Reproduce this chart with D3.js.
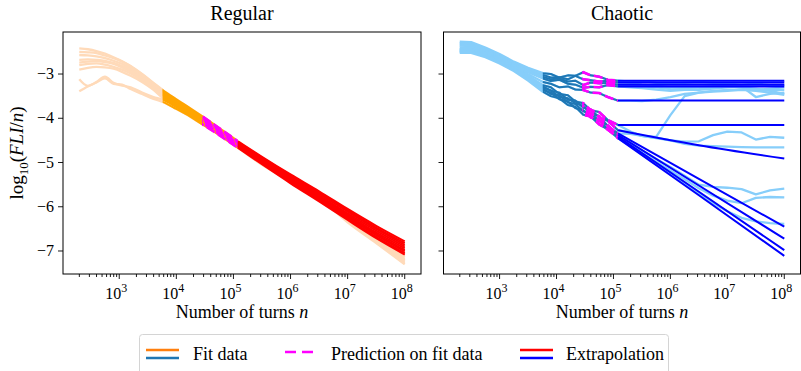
<!DOCTYPE html>
<html>
<head>
<meta charset="utf-8">
<script src="https://cdn.jsdelivr.net/npm/d3@7"></script>
<style>
  body { margin: 0; background: #fff; }
  text { font-family: "Liberation Serif", "DejaVu Serif", serif; fill: #000; }
</style>
</head>
<body>
<div id="chart"></div>
<script>
// ---- data (x values are log10 of the number of turns) ----
var fitStart = 3.76, predStart = 4.45, fitEnd = 5.08;

var regLogN = [2.3, 2.45, 2.6, 2.75, 2.9, 3.05, 3.2, 3.4, 3.6, 3.76, 4.0, 4.25, 4.47, 4.75, 5.08, 5.5, 6.0, 6.5, 7.0, 7.5, 8.0];
var regSeries = [
  [-2.42, -2.44, -2.48, -2.54, -2.62, -2.71, -2.82, -3.0, -3.2, -3.36, -3.57, -3.78, -3.97, -4.22, -4.52, -4.92, -5.3, -5.7, -6.2, -6.62, -7.02],
  [-2.5, -2.51, -2.53, -2.58, -2.64, -2.72, -2.83, -3.01, -3.21, -3.38, -3.59, -3.8, -3.99, -4.24, -4.54, -4.94, -5.31, -5.71, -6.22, -6.66, -7.06],
  [-2.57, -2.58, -2.6, -2.64, -2.7, -2.77, -2.87, -3.04, -3.23, -3.41, -3.61, -3.82, -4.01, -4.26, -4.56, -4.95, -5.33, -5.72, -6.24, -6.68, -7.1],
  [-2.68, -2.67, -2.68, -2.7, -2.75, -2.82, -2.91, -3.07, -3.26, -3.44, -3.64, -3.84, -4.03, -4.28, -4.58, -4.97, -5.34, -5.73, -6.26, -6.71, -7.14],
  [-2.74, -2.72, -2.71, -2.73, -2.77, -2.85, -2.95, -3.1, -3.29, -3.47, -3.66, -3.86, -4.05, -4.3, -4.6, -4.98, -5.35, -5.74, -6.28, -6.74, -7.18],
  [-2.8, -2.77, -2.76, -2.79, -2.84, -2.9, -2.99, -3.14, -3.32, -3.5, -3.69, -3.89, -4.07, -4.32, -4.62, -5.0, -5.37, -5.76, -6.3, -6.76, -7.21],
  [-2.9, -2.86, -2.84, -2.85, -2.88, -2.95, -3.04, -3.18, -3.36, -3.54, -3.72, -3.91, -4.09, -4.34, -4.63, -5.01, -5.38, -5.77, -6.32, -6.78, -7.24],
  [-3.12, -3.27, -3.18, -3.06, -3.2, -3.26, -3.3, -3.42, -3.52, -3.58, -3.75, -3.94, -4.12, -4.36, -4.65, -5.03, -5.4, -5.78, -6.33, -6.8, -7.27],
  [-3.39, -3.28, -3.19, -3.1, -3.22, -3.24, -3.34, -3.45, -3.56, -3.63, -3.79, -3.97, -4.15, -4.38, -4.67, -5.05, -5.42, -5.8, -6.35, -6.82, -7.3]
];
var regExtLogN = [5.08, 5.5, 6.0, 6.5, 7.0, 7.5, 8.0];
var regExtrap = [
  [-4.52, -4.87, -5.27, -5.65, -6.05, -6.43, -6.78],
  [-4.54, -4.89, -5.29, -5.68, -6.08, -6.47, -6.82],
  [-4.56, -4.92, -5.32, -5.71, -6.11, -6.5, -6.86],
  [-4.58, -4.94, -5.35, -5.74, -6.15, -6.54, -6.9],
  [-4.6, -4.96, -5.37, -5.77, -6.18, -6.58, -6.94],
  [-4.62, -4.99, -5.4, -5.8, -6.21, -6.61, -6.98],
  [-4.63, -5.0, -5.42, -5.82, -6.24, -6.64, -7.01],
  [-4.65, -5.02, -5.44, -5.85, -6.27, -6.68, -7.05],
  [-4.67, -5.04, -5.47, -5.88, -6.3, -6.71, -7.08]
];

var chaLogN = [2.3, 2.5, 2.75, 3.0, 3.25, 3.5, 3.76, 3.9, 4.05, 4.2, 4.33, 4.47, 4.6, 4.75, 4.9, 5.08,
  5.3, 5.5, 5.75, 6.0, 6.25, 6.5, 6.75, 7.0, 7.25, 7.5, 7.75, 8.0];
var chaSeries = [
  [-2.27, -2.28, -2.4, -2.55, -2.72, -2.86, -2.98, -3.0, -3.08, -3.03, -3.04, -2.96, -3.03, -3.06, -3.13, -3.15,
    -3.17, -3.16, -3.2, -3.22, -3.2, -3.18, -3.2, -3.22, -3.24, -3.22, -3.25, -3.25],
  [-2.3, -2.31, -2.43, -2.58, -2.75, -2.9, -3.02, -3.08, -3.07, -3.12, -3.04, -3.12, -3.14, -3.17, -3.15, -3.19,
    -3.2, -3.24, -3.26, -3.3, -3.32, -3.3, -3.28, -3.27, -3.3, -3.36, -3.33, -3.3],
  [-2.33, -2.34, -2.46, -2.6, -2.77, -2.93, -3.06, -3.12, -3.1, -3.17, -3.15, -3.25, -3.19, -3.21, -3.2, -3.24,
    -3.26, -3.28, -3.3, -3.34, -3.35, -3.36, -3.33, -3.3, -3.28, -3.52, -3.45, -3.42],
  [-2.36, -2.37, -2.48, -2.62, -2.79, -2.96, -3.1, -3.16, -3.13, -3.22, -3.24, -3.31, -3.29, -3.3, -3.25, -3.28,
    -3.3, -3.32, -3.35, -3.38, -3.36, -3.34, -3.3, -3.28, -3.3, -3.33, -3.38, -3.45],
  [-2.4, -2.4, -2.5, -2.64, -2.81, -3.0, -3.18, -3.22, -3.3, -3.28, -3.35, -3.36, -3.42, -3.43, -3.52, -3.6,
    -3.6, -3.61, -3.58, -3.52, -3.45, -3.42, -3.4, -3.38, -3.36, -3.38, -3.42, -3.47],
  [-2.43, -2.43, -2.52, -2.66, -2.83, -3.03, -3.25, -3.3, -3.45, -3.48, -3.62, -3.66, -3.82, -3.86, -4.04, -4.15,
    -4.3, -4.4, -4.42, -3.93, -3.5, -3.42, -3.38, -3.36, -3.35, -3.36, -3.36, -3.36],
  [-2.45, -2.45, -2.54, -2.68, -2.85, -3.05, -3.28, -3.38, -3.42, -3.58, -3.6, -3.76, -3.8, -3.98, -4.06, -4.27,
    -4.32, -4.4, -4.44, -4.5, -4.58, -4.62, -4.63, -4.64, -4.65, -4.66, -4.66, -4.66],
  [-2.47, -2.47, -2.56, -2.7, -2.87, -3.08, -3.3, -3.37, -3.52, -3.55, -3.66, -3.72, -3.9, -3.95, -4.18, -4.34,
    -4.35, -4.4, -4.45, -4.5, -4.53, -4.52, -4.38, -4.3, -4.32, -4.48, -4.42, -4.44],
  [-2.48, -2.49, -2.58, -2.72, -2.89, -3.1, -3.33, -3.45, -3.48, -3.64, -3.68, -3.84, -3.88, -4.06, -4.16, -4.38,
    -4.55, -4.72, -4.92, -5.1, -5.3, -5.5, -5.55, -5.57, -5.6, -5.72, -5.63, -5.59],
  [-2.5, -2.5, -2.6, -2.74, -2.91, -3.12, -3.36, -3.42, -3.57, -3.62, -3.77, -3.82, -3.98, -4.04, -4.26, -4.42,
    -4.6, -4.78, -4.98, -5.18, -5.38, -5.58, -5.75, -5.86, -5.92, -5.8, -5.78, -5.79],
  [-2.52, -2.52, -2.62, -2.76, -2.93, -3.15, -3.4, -3.5, -3.55, -3.7, -3.74, -3.92, -3.96, -4.14, -4.25, -4.45,
    -4.63, -4.82, -5.04, -5.25, -5.47, -5.7, -5.92, -6.1, -6.25, -6.33, -6.37, -6.39]
];
var chaExtLogN = [5.08, 6.5, 8.0];
var chaExtrap = [
  [-3.15, -3.15, -3.15],
  [-3.19, -3.19, -3.19],
  [-3.24, -3.24, -3.24],
  [-3.28, -3.28, -3.28],
  [-3.6, -3.6, -3.6],
  [-4.15, -4.15, -4.15],
  [-4.27, -4.61, -4.91],
  [-4.34, -5.37, -6.45],
  [-4.38, -5.52, -6.72],
  [-4.42, -5.66, -6.98],
  [-4.45, -5.74, -7.11]
];

var xTickExps = [3, 4, 5, 6, 7, 8];
var yTicks = [-3, -4, -5, -6, -7];
var panelTitles = ['Regular', 'Chaotic'];
var legendLabels = ['Fit data', 'Prediction on fit data', 'Extrapolation'];

(function () {
  // ---- layout ----
  var W = 801, H = 371;
  var plotTop = 32, plotBottom = 274;
  var panels = [
    { left: 63, right: 421, title: panelTitles[0], bg: 'peachpuff', fit: 'orange', ext: 'red',
      logN: regLogN, series: regSeries, extLogN: regExtLogN, extrap: regExtrap, labels: true,
      curve: d3.curveMonotoneX },
    { left: 443.5, right: 800.5, title: panelTitles[1], bg: 'lightskyblue', fit: '#1f77b4', ext: '#0000ff',
      logN: chaLogN, series: chaSeries, extLogN: chaExtLogN, extrap: chaExtrap, labels: false,
      curve: d3.curveLinear }
  ];

  var svg = d3.select('#chart').append('svg')
    .attr('width', W).attr('height', H);

  var y = d3.scaleLinear().domain([-7.52, -2.05]).range([plotBottom, plotTop]);
  var defs = svg.append('defs');

  function pairs(xs, ys) { return xs.map(function (v, i) { return [v, ys[i]]; }); }

  panels.forEach(function (p, pi) {
    var x = d3.scaleLog().domain([Math.pow(10, 2.015), Math.pow(10, 8.285)]).range([p.left, p.right]);
    var line = d3.line()
      .curve(p.curve)
      .x(function (d) { return x(Math.pow(10, d[0])); })
      .y(function (d) { return y(d[1]); });
    var smooth = d3.line()
      .curve(d3.curveMonotoneX)
      .x(function (d) { return x(Math.pow(10, d[0])); })
      .y(function (d) { return y(d[1]); });

    // clip regions for the fitted window and the prediction window
    defs.append('clipPath').attr('id', 'fit' + pi).append('rect')
      .attr('x', x(Math.pow(10, fitStart))).attr('y', plotTop)
      .attr('width', x(Math.pow(10, fitEnd)) - x(Math.pow(10, fitStart))).attr('height', plotBottom - plotTop);
    defs.append('clipPath').attr('id', 'pred' + pi).append('rect')
      .attr('x', x(Math.pow(10, predStart))).attr('y', plotTop)
      .attr('width', x(Math.pow(10, fitEnd)) - x(Math.pow(10, predStart))).attr('height', plotBottom - plotTop);

    var g = svg.append('g');

    g.selectAll('path.bg').data(p.series).enter().append('path')
      .attr('class', 'bg')
      .attr('d', function (s) { return line(pairs(p.logN, s)); })
      .attr('fill', 'none').attr('stroke', p.bg).attr('stroke-width', 2.3)
      .attr('stroke-linejoin', 'round');

    g.append('g').attr('clip-path', 'url(#fit' + pi + ')')
      .selectAll('path').data(p.series).enter().append('path')
      .attr('d', function (s) { return line(pairs(p.logN, s)); })
      .attr('fill', 'none').attr('stroke', p.fit).attr('stroke-width', 2)
      .attr('stroke-linejoin', 'round');

    g.append('g').attr('clip-path', 'url(#pred' + pi + ')')
      .selectAll('path').data(p.series).enter().append('path')
      .attr('d', function (s) { return line(pairs(p.logN, s)); })
      .attr('fill', 'none').attr('stroke', '#ff00ff').attr('stroke-width', 2.6)
      .attr('stroke-dasharray', '9,4');

    g.selectAll('path.ext').data(p.extrap).enter().append('path')
      .attr('class', 'ext')
      .attr('d', function (s) { return smooth(pairs(p.extLogN, s)); })
      .attr('fill', 'none').attr('stroke', p.ext).attr('stroke-width', 2);

    // frame
    svg.append('rect')
      .attr('x', p.left).attr('y', plotTop)
      .attr('width', p.right - p.left).attr('height', plotBottom - plotTop)
      .attr('fill', 'none').attr('stroke', '#000').attr('stroke-width', 1);

    // x ticks (major + minor)
    var ticks = [];
    for (var e = 2; e <= 8; e++) {
      for (var k = 1; k <= 9; k++) {
        var v = k * Math.pow(10, e);
        if (v >= x.domain()[0] && v <= x.domain()[1]) ticks.push({ v: v, major: k === 1 });
      }
    }
    svg.append('g').selectAll('line').data(ticks).enter().append('line')
      .attr('x1', function (d) { return x(d.v); }).attr('x2', function (d) { return x(d.v); })
      .attr('y1', plotBottom).attr('y2', function (d) { return plotBottom + (d.major ? 5 : 3); })
      .attr('stroke', '#000').attr('stroke-width', 0.9);

    var xl = svg.append('g').selectAll('text').data(xTickExps).enter().append('text')
      .attr('x', function (d) { return x(Math.pow(10, d)) - 3; })
      .attr('y', 299)
      .attr('text-anchor', 'middle')
      .style('font-size', '16px');
    xl.append('tspan').text('10');
    xl.append('tspan').attr('dy', -7).style('font-size', '12px').text(function (d) { return d; });

    // y ticks
    svg.append('g').selectAll('line').data(yTicks).enter().append('line')
      .attr('x1', p.left - 5).attr('x2', p.left)
      .attr('y1', function (d) { return y(d); }).attr('y2', function (d) { return y(d); })
      .attr('stroke', '#000').attr('stroke-width', 0.9);
    if (p.labels) {
      svg.append('g').selectAll('text').data(yTicks).enter().append('text')
        .attr('x', p.left - 9).attr('y', function (d) { return y(d) + 5; })
        .attr('text-anchor', 'end')
        .style('font-size', '16px')
        .text(function (d) { return '\u2212' + Math.abs(d); });
    }

    // title and x label
    var cx = (p.left + p.right) / 2;
    svg.append('text').attr('x', cx).attr('y', 20).attr('text-anchor', 'middle')
      .style('font-size', '20px').text(p.title);
    var xlab = svg.append('text').attr('x', cx).attr('y', 318).attr('text-anchor', 'middle')
      .style('font-size', '18px');
    xlab.append('tspan').text('Number of turns ');
    xlab.append('tspan').style('font-style', 'italic').text('n');
  });

  // y label
  var yl = svg.append('text')
    .attr('transform', 'translate(23,153) rotate(-90)')
    .attr('text-anchor', 'middle')
    .style('font-size', '19px');
  yl.append('tspan').text('log');
  yl.append('tspan').attr('dy', 5).style('font-size', '13px').text('10');
  yl.append('tspan').attr('dy', -5).text('(');
  yl.append('tspan').style('font-style', 'italic').text('FLI');
  yl.append('tspan').text('/');
  yl.append('tspan').style('font-style', 'italic').text('n');
  yl.append('tspan').text(')');

  // legend
  var lg = svg.append('g');
  lg.append('rect').attr('x', 139.5).attr('y', 334.5).attr('width', 529).attr('height', 50).attr('rx', 3)
    .attr('fill', '#fff').attr('stroke', '#d4d4d4').attr('stroke-width', 1);
  var handles = [
    { x: 146, lines: [{ c: '#ff7f0e', dy: -4 }, { c: '#1f77b4', dy: 4 }], tx: 193 },
    { x: 285, lines: [{ c: '#ff00ff', dy: -2, dash: '11,6' }], tx: 331 },
    { x: 520, lines: [{ c: '#ff0000', dy: -4 }, { c: '#0000ff', dy: 4 }], tx: 566 }
  ];
  handles.forEach(function (h, i) {
    h.lines.forEach(function (l) {
      lg.append('line').attr('x1', h.x).attr('x2', h.x + 33)
        .attr('y1', 354 + l.dy).attr('y2', 354 + l.dy)
        .attr('stroke', l.c).attr('stroke-width', 2.5)
        .attr('stroke-dasharray', l.dash || null);
    });
    lg.append('text').attr('x', h.tx).attr('y', 360).style('font-size', '18px').text(legendLabels[i]);
  });
})();
</script>
</body>
</html>
